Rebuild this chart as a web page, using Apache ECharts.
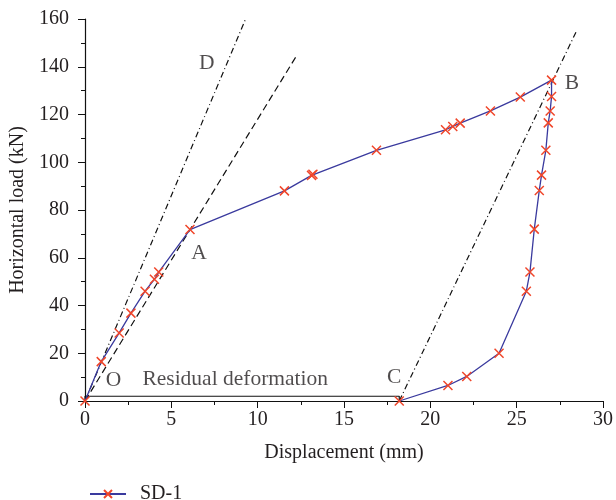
<!DOCTYPE html>
<html><head><meta charset="utf-8">
<script src="https://cdn.jsdelivr.net/npm/echarts@6/dist/echarts.min.js"></script>
<style>html,body{margin:0;padding:0;background:#fff}#c{width:616px;height:500px}</style>
</head><body><div id="c"></div>
<script>
// SD-1 load-displacement path (loading O -> A -> B, unloading B -> C)
const sd1 = [
  [0,0],[0.94,16.5],[1.98,28.5],[2.66,36.8],[3.48,46],[4.02,51],[4.27,54],[6.08,71.8],
  [11.55,88],[13.12,94.5],[13.2,95],[16.88,105],[20.88,113.6],[21.3,115],[21.73,116.4],
  [23.48,121.5],[25.21,127.3],[27.02,134.4],
  [27.02,127.5],[26.94,121.5],[26.83,116.5],[26.69,105],[26.44,94.6],[26.31,88.2],
  [26.02,72],[25.77,54],[25.56,46],[23.98,20],[22.11,10.3],[21.02,6.5],[18.2,0]
];
const secantLine = [[0,0],[12.2,144]];
const initialStiffLine = [[0,0],[9.3,160]];
const unloadLine = [[18.2,0],[28.5,155.5]];
const residualLine = [[0,0],[0,2],[18.2,2],[18.2,0]];
const annotations = [
  [7.05,141.4,'D'],[6.6,61.9,'A'],[28.2,133.1,'B'],[17.9,9.8,'C'],[1.65,8.6,'O'],[8.7,9.0,'Residual deformation']
];
const xTicks = [0,5,10,15,20,25,30];
const yTicks = [0,20,40,60,80,100,120,140,160];

const FONT = '"Liberation Serif","DejaVu Serif",serif';
const TXT = '#231f20';
const chart = echarts.init(document.getElementById('c'));
const xSymbol = 'path://M0,0L10,10M10,0L0,10';
chart.setOption({
  animation:false,
  grid:{left:85,right:10,top:19,bottom:99},
  legend:{data:['SD-1'],left:84,top:479,itemWidth:36,itemHeight:10,
    textStyle:{fontFamily:FONT,fontSize:20,color:TXT,padding:[0,0,0,9]}},
  xAxis:{type:'value',min:xTicks[0],max:xTicks[xTicks.length-1],interval:5,
    name:'Displacement (mm)',nameLocation:'middle',nameGap:42,
    nameTextStyle:{fontFamily:FONT,fontSize:20,color:TXT},
    axisLine:{lineStyle:{color:'#111',width:1.2}},
    axisTick:{inside:false,length:7,lineStyle:{color:'#111'}},
    minorTick:{show:true,splitNumber:2,length:4,lineStyle:{color:'#111'}},
    axisLabel:{fontFamily:FONT,fontSize:20,color:TXT,margin:9},
    splitLine:{show:false}},
  yAxis:{type:'value',min:yTicks[0],max:yTicks[yTicks.length-1],interval:20,
    name:'Horizontal load (kN)',nameLocation:'middle',nameGap:57,nameRotate:90,
    nameTextStyle:{fontFamily:FONT,fontSize:20,color:TXT},
    axisLine:{show:true,lineStyle:{color:'#111',width:1.2}},
    axisTick:{show:true,inside:false,length:7,lineStyle:{color:'#111'}},
    minorTick:{show:true,splitNumber:2,length:4,lineStyle:{color:'#111'}},
    axisLabel:{fontFamily:FONT,fontSize:20,color:TXT,margin:16},
    splitLine:{show:false}},
  series:[
    {name:'residual',type:'line',data:residualLine,symbol:'none',silent:true,
      lineStyle:{color:'#111',width:1.2}},
    {name:'secant',type:'line',data:secantLine,symbol:'none',silent:true,
      lineStyle:{color:'#111',width:1.2,type:[7,4]}},
    {name:'initial',type:'line',data:initialStiffLine,symbol:'none',silent:true,
      lineStyle:{color:'#111',width:1.2,type:[6,3,1,3]}},
    {name:'unload',type:'line',data:unloadLine,symbol:'none',silent:true,
      lineStyle:{color:'#111',width:1.2,type:[6,3,1,3]}},
    {name:'SD-1',type:'line',data:sd1,symbol:xSymbol,symbolSize:9,showAllSymbol:true,
      lineStyle:{color:'#3a3a9e',width:1.3},
      itemStyle:{color:'#f0462a',borderColor:'#f0462a',borderWidth:1.5}},
    {name:'labels',type:'scatter',data:annotations,symbolSize:1,itemStyle:{color:'transparent'},
      label:{show:true,position:'inside',formatter:p=>p.value[2],fontFamily:FONT,fontSize:21.5,color:TXT}}
  ]
});
</script></body></html>
